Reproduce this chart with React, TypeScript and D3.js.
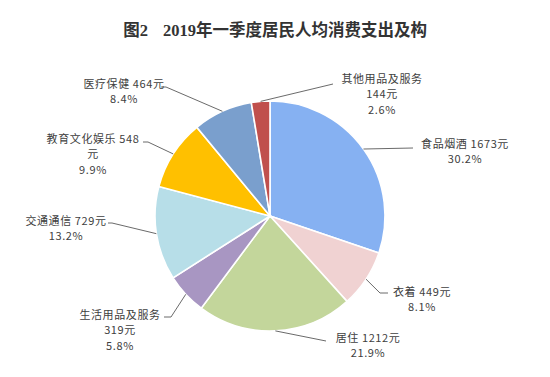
import React from "react";
import * as d3 from "d3";

const categories = ["食品烟酒", "衣着", "居住", "生活用品及服务", "交通通信", "教育文化娱乐", "医疗保健", "其他用品及服务"];
const values = [1673, 449, 1212, 319, 729, 548, 464, 144];
const percents = ["30.2%", "8.1%", "21.9%", "5.8%", "13.2%", "9.9%", "8.4%", "2.6%"];
const colors = ["#86b1f2", "#f0d2d2", "#c3d69b", "#a896c2", "#b7dee8", "#ffc000", "#7a9fcd", "#c0504d"];
// label text lines
const labelLines = [
  ["食品烟酒 1673元", "30.2%"],
  ["衣着 449元", "8.1%"],
  ["居住 1212元", "21.9%"],
  ["生活用品及服务", "319元", "5.8%"],
  ["交通通信 729元", "13.2%"],
  ["教育文化娱乐 548", "元", "9.9%"],
  ["医疗保健 464元", "8.4%"],
  ["其他用品及服务", "144元", "2.6%"],
];

// layout: label center x, first line center y, leader elbow + end
const labelLayout = [
  { x: 465, y: 144, pts: [[413, 148]] },
  { x: 422, y: 292, pts: [[380, 293], [388, 293]] },
  { x: 368, y: 338, pts: [[326, 341]] },
  { x: 120, y: 315, pts: [[171, 317], [164, 317]] },
  { x: 66, y: 221, pts: [[112, 223], [108, 223]] },
  { x: 93, y: 139, pts: [[148, 142], [143, 142]] },
  { x: 124, y: 84, pts: [[166, 87], [161, 87]] },
  { x: 382, y: 79, pts: [[333, 84]] },
];

export default function App() {
  const W = 550, H = 377;
  const cx = 270, cy = 216, r = 115;
  const pie = d3.pie<number>().sort(null).value((d) => d);
  const arcs = pie(values);
  const arc = d3.arc<d3.PieArcDatum<number>>().innerRadius(0).outerRadius(r);
  const lineGen = d3.line();
  const font = "'Microsoft YaHei', 'Noto Sans CJK SC', sans-serif";
  return (
    <svg width={W} height={H} style={{ position: "absolute", left: 0, top: 0, background: "#fff" }}>
      <text x={275} y={36} textAnchor="middle" fontSize={16.5} fontWeight="bold" fill="#333"
        fontFamily="'Liberation Serif', 'Noto Sans CJK SC', serif">
        图2<tspan dx={15}>2019年一季度居民人均消费支出及构</tspan>
      </text>
      <g transform={`translate(${cx},${cy})`}>
        {arcs.map((a, i) => (
          <path key={categories[i]} d={arc(a) || ""} fill={colors[i]} stroke="#fff" strokeWidth={1.6} />
        ))}
      </g>
      {arcs.map((a, i) => {
        const mid = (a.startAngle + a.endAngle) / 2;
        const sx = cx + r * Math.sin(mid);
        const sy = cy - r * Math.cos(mid);
        const L = labelLayout[i];
        const pts: [number, number][] = [[sx, sy], ...(L.pts as [number, number][])];
        return (
          <g key={"l" + i}>
            <path d={lineGen(pts) || ""} fill="none" stroke="#595959" strokeWidth={0.9} />
            {labelLines[i].map((t, j) => (
              <text key={j} x={L.x} y={L.y + j * 15.5} dy="0.35em" textAnchor="middle" fontSize={11}
                letterSpacing={0.6} fill="#404040" fontFamily={font}>{t}</text>
            ))}
          </g>
        );
      })}
    </svg>
  );
}
